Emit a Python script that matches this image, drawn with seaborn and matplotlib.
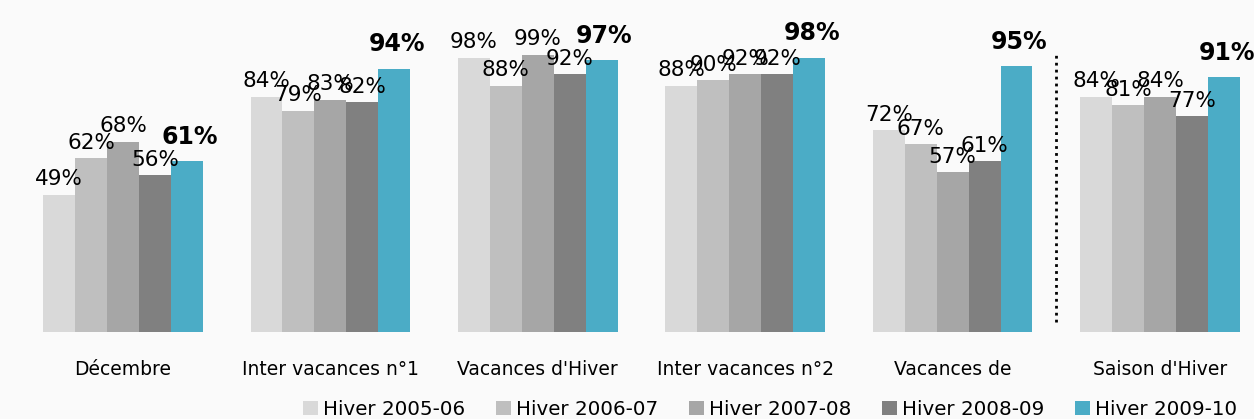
import matplotlib
matplotlib.use("Agg")
import matplotlib.pyplot as plt
import pandas as pd
import seaborn as sns

# data
periods = ["Décembre", "Inter vacances n°1", "Vacances d'Hiver",
           "Inter vacances n°2", "Vacances de", "Saison d'Hiver"]
seasons = ["Hiver 2005-06", "Hiver 2006-07", "Hiver 2007-08",
           "Hiver 2008-09", "Hiver 2009-10"]
hiver_2005_06 = [49, 84, 98, 88, 72, 84]
hiver_2006_07 = [62, 79, 88, 90, 67, 81]
hiver_2007_08 = [68, 83, 99, 92, 57, 84]
hiver_2008_09 = [56, 82, 92, 92, 61, 77]
hiver_2009_10 = [61, 94, 97, 98, 95, 91]
colors = ["#d9d9d9", "#bfbfbf", "#a6a6a6", "#808080", "#4bacc6"]

series = [hiver_2005_06, hiver_2006_07, hiver_2007_08, hiver_2008_09, hiver_2009_10]
rows = []
for s, vals in zip(seasons, series):
    for p, v in zip(periods, vals):
        rows.append({"periode": p, "saison": s, "taux": v})
df = pd.DataFrame(rows)

sns.set_style("white")
plt.rcParams["font.family"] = ["DejaVu Sans"]
plt.rcParams["text.color"] = "black"

fig = plt.figure(figsize=(12.54, 4.19), dpi=100, facecolor="#fafafa")
ax = fig.add_axes([0, 87 / 419, 1, 332 / 419])
ax.set_facecolor("#fafafa")

sns.barplot(data=df, x="periode", y="taux", hue="saison", order=periods,
            hue_order=seasons, palette=colors, width=0.77, gap=0,
            linewidth=0, saturation=1, ax=ax, legend=True)

ax.set_xlim(-0.593, 5.453)
ax.set_ylim(0, 118.6)
ax.set_yticks([])
ax.set_xlabel("")
ax.set_ylabel("")
for sp in ax.spines.values():
    sp.set_visible(False)
ax.tick_params(axis="x", length=0, pad=20)
for lab in ax.get_xticklabels():
    lab.set_fontsize(13.5)
    lab.set_color("black")

# value labels
for i, cont in enumerate(ax.containers):
    last = i == len(ax.containers) - 1
    for bar, v in zip(cont, series[i]):
        cx = bar.get_x() + bar.get_width() / 2
        top = bar.get_height()
        if last:
            ax.annotate(f"{v}%", (cx, top), xytext=(2, 9), textcoords="offset points",
                        ha="center", va="bottom", fontsize=17, fontweight="bold")
        else:
            ax.annotate(f"{v}%", (cx, top), xytext=(0, 4), textcoords="offset points",
                        ha="center", va="bottom", fontsize=15.5)

# dotted separator before the whole-season group
ax.vlines(4.5, 3.5, 100, colors="black", linestyles=(0, (1, 1.5)), linewidth=2)

handles, labels = ax.get_legend_handles_labels()
ax.get_legend().remove()
leg = fig.legend(handles, labels, loc="center", bbox_to_anchor=(0.614, 0.023),
                 ncol=5, frameon=False, handlelength=0.75, handleheight=0.75,
                 handletextpad=0.25, columnspacing=1.55, borderpad=0,
                 prop={"family": "DejaVu Sans", "size": 14.3})

fig.savefig("out.png", dpi=100, facecolor=fig.get_facecolor())
